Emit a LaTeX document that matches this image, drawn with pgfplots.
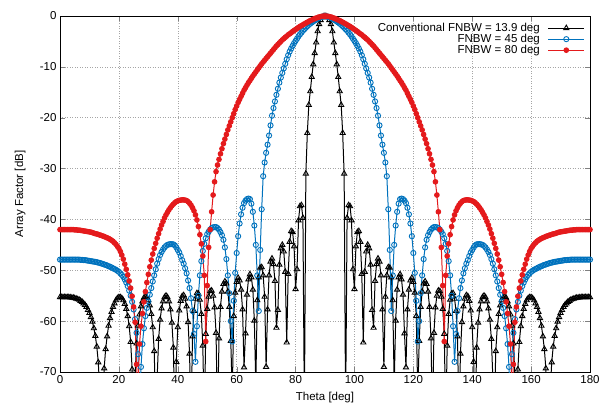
\documentclass[border=0pt]{standalone}
\usepackage{fontspec}
\setmainfont{Liberation Sans}
\usepackage{pgfplots}
\usepackage{pgfplotstable}
\pgfplotsset{compat=1.18}

\definecolor{afblue}{RGB}{0,114,189}
\definecolor{afred}{RGB}{228,26,28}

% t = theta [deg], r = FNBW 80, b = FNBW 45, k = conventional
\pgfplotstableread{
t r b k
0 -42.0 -47.9 -55.3
0.5 -42.0 -47.9 -55.3
1 -42.0 -47.9 -55.3
1.5 -42.0 -47.9 -55.3
2 -42.0 -47.9 -55.3
2.5 -42.0 -47.9 -55.3
3 -42.0 -47.9 -55.3
3.5 -42.0 -47.9 -55.35
4 -42.0 -47.9 -55.4
4.5 -42.0 -47.9 -55.4
5 -42.05 -47.9 -55.5
5.5 -42.05 -47.9 -55.6
6 -42.1 -47.9 -55.7
6.5 -42.1 -47.9 -55.8
7 -42.15 -47.95 -56.0
7.5 -42.2 -47.95 -56.2
8 -42.25 -48.0 -56.5
8.5 -42.3 -48.0 -56.8
9 -42.35 -48.05 -57.2
9.5 -42.4 -48.1 -57.8
10 -42.45 -48.15 -58.4
10.5 -42.5 -48.2 -59.2
11 -42.6 -48.25 -60.1
11.5 -42.7 -48.3 -61.4
12 -42.8 -48.35 -62.9
12.5 -42.85 -48.4 -65.0
13 -42.95 -48.5 -68.1
13.5 -43.05 -48.55 -73.6
14 -43.15 -48.65 -80
14.5 -43.25 -48.75 -75.8
15 -43.35 -48.85 -69.3
15.5 -43.5 -48.95 -65.5
16 -43.6 -49.05 -63.0
16.5 -43.75 -49.2 -60.9
17 -43.9 -49.3 -59.4
17.5 -44.1 -49.45 -58.2
18 -44.3 -49.6 -57.2
18.5 -44.6 -49.75 -56.5
19 -44.9 -49.9 -55.9
19.5 -45.3 -50.1 -55.5
20 -45.7 -50.3 -55.3
20.5 -46.3 -50.6 -55.3
21 -47.0 -50.9 -55.5
21.5 -47.8 -51.3 -55.9
22 -48.8 -51.8 -56.6
22.5 -49.8 -52.4 -57.6
23 -50.9 -53.1 -59.0
23.5 -52.1 -54.0 -61.0
24 -53.5 -55.0 -64.1
24.5 -55.1 -56.2 -69.5
25 -57.2 -57.7 -80
25.5 -60.2 -59.6 -70.8
26 -68.5 -62.3 -64.4
26.5 -74 -66.5 -60.9
27 -64.5 -76 -58.7
27.5 -61.0 -69.0 -57.1
28 -58.5 -64.5 -56.1
28.5 -56.2 -61.4 -55.4
29 -54.2 -59.0 -55.2
29.5 -52.4 -57.4 -55.3
30 -50.8 -56.1 -55.9
30.5 -49.3 -54.8 -56.9
31 -48.0 -53.5 -58.6
31.5 -46.8 -52.2 -61.2
32 -45.7 -51.0 -65.9
32.5 -44.7 -49.8 -78
33 -43.7 -48.7 -71.1
33.5 -42.8 -47.8 -63.5
34 -41.9 -47.0 -59.7
34.5 -41.1 -46.4 -57.5
35 -40.4 -45.9 -56.1
35.5 -39.7 -45.5 -55.3
36 -39.1 -45.2 -55.0
36.5 -38.6 -45.0 -55.3
37 -38.1 -44.9 -56.1
37.5 -37.7 -44.85 -57.7
38 -37.3 -44.85 -60.3
38.5 -37.0 -44.9 -65.2
39 -36.7 -45.1 -80
39.5 -36.5 -45.5 -68.0
40 -36.35 -46.0 -61.2
40.5 -36.25 -46.5 -57.9
41 -36.2 -47.2 -56.0
41.5 -36.15 -48.0 -55.1
42 -36.15 -48.7 -54.9
42.5 -36.2 -49.6 -55.6
43 -36.3 -50.6 -57.1
43.5 -36.5 -52.0 -60.2
44 -36.8 -53.5 -66.4
44.5 -37.2 -55.5 -80
45 -37.7 -58.0 -63.0
45.5 -38.3 -62.5 -58.0
46 -39.1 -68.0 -55.6
46.5 -40.1 -61.0 -54.5
47 -41.4 -55.0 -54.6
47.5 -43.0 -51.0 -55.8
48 -44.8 -48.2 -58.6
48.5 -47.2 -46.2 -64.8
49 -51.0 -44.8 -80
49.5 -64 -43.7 -62.5
50 -53 -42.9 -57.6
50.5 -45.5 -42.4 -55.2
51 -42.0 -42.0 -54.1
51.5 -38.5 -41.7 -54.0
52 -35.2 -41.55 -55.0
52.5 -32.6 -41.5 -57.3
53 -30.6 -41.5 -62.3
53.5 -29.3 -41.7 -80
54 -28.2 -42.0 -63.4
54.5 -27.1 -42.5 -57.2
55 -26.1 -43.1 -54.2
55.5 -25.1 -44.0 -52.7
56 -24.2 -45.5 -52.2
56.5 -23.3 -47.8 -52.6
57 -22.4 -51.0 -54.2
57.5 -21.6 -54.5 -57.2
58 -20.8 -60.0 -63.9
58.5 -20.0 -64.0 -74.3
59 -19.2 -56.0 -59.0
59.5 -18.4 -50.5 -54.4
60 -17.7 -46.6 -52.3
60.5 -17.0 -43.3 -51.5
61 -16.4 -40.8 -52.0
61.5 -15.8 -39.0 -53.8
62 -15.2 -37.7 -57.7
62.5 -14.6 -36.8 -69.1
63 -14.1 -36.3 -62.4
63.5 -13.6 -36.0 -54.8
64 -13.1 -35.9 -51.8
64.5 -12.7 -36.0 -50.8
65 -12.25 -36.9 -51.4
65.5 -11.8 -38.5 -53.8
66 -11.4 -41.2 -59.9
66.5 -11.0 -45.0 -72.5
67 -10.6 -51.0 -55.9
67.5 -10.2 -58.0 -51.4
68 -9.8 -46.0 -49.5
68.5 -9.4 -38.0 -49.4
69 -9.05 -31.5 -51.0
69.5 -8.7 -28.8 -55.2
70 -8.35 -26.9 -69.0
70.5 -8.0 -25.3 -57.7
71 -7.65 -23.5 -51.0
71.5 -7.3 -21.5 -48.3
72 -6.95 -19.6 -47.7
72.5 -6.6 -18.1 -48.8
73 -6.25 -16.8 -52.1
73.5 -5.9 -15.5 -61.3
74 -5.6 -14.3 -57.8
74.5 -5.3 -13.1 -48.9
75 -5.0 -12.1 -45.7
75.5 -4.7 -11.2 -45.0
76 -4.45 -10.3 -46.3
76.5 -4.2 -9.4 -50.3
77 -3.95 -8.5 -64.2
77.5 -3.7 -7.7 -50.7
78 -3.5 -7.0 -44.4
78.5 -3.3 -6.4 -42.3
79 -3.05 -5.85 -42.5
79.5 -2.85 -5.35 -45.3
80 -2.65 -4.9 -53.7
80.5 -2.45 -4.45 -49.8
81 -2.25 -4.0 -40.2
81.5 -2.05 -3.6 -37.4
82 -1.9 -3.25 -37.2
82.5 -1.72 -2.9 -39.7
83 -1.55 -2.6 -78
83.5 -1.38 -2.3 -31
84 -1.22 -2.0 -23
84.5 -1.06 -1.75 -17.5
85 -0.92 -1.5 -14.8
85.5 -0.78 -1.28 -12.0
86 -0.65 -1.08 -9.5
86.5 -0.52 -0.88 -7.3
87 -0.4 -0.7 -5.2
87.5 -0.3 -0.53 -3.0
88 -0.2 -0.38 -1.6
88.5 -0.12 -0.26 -0.8
89 -0.06 -0.15 -0.3
89.5 -0.02 -0.06 -0.1
90 0 0 0
90.5 -0.02 -0.06 -0.1
91 -0.06 -0.15 -0.3
91.5 -0.12 -0.26 -0.8
92 -0.2 -0.38 -1.6
92.5 -0.3 -0.53 -3.0
93 -0.4 -0.7 -5.2
93.5 -0.52 -0.88 -7.3
94 -0.65 -1.08 -9.5
94.5 -0.78 -1.28 -12.0
95 -0.92 -1.5 -14.8
95.5 -1.06 -1.75 -17.5
96 -1.22 -2.0 -23
96.5 -1.38 -2.3 -31
97 -1.55 -2.6 -78
97.5 -1.72 -2.9 -39.7
98 -1.9 -3.25 -37.2
98.5 -2.05 -3.6 -37.4
99 -2.25 -4.0 -40.2
99.5 -2.45 -4.45 -49.8
100 -2.65 -4.9 -53.7
100.5 -2.85 -5.35 -45.3
101 -3.05 -5.85 -42.5
101.5 -3.3 -6.4 -42.3
102 -3.5 -7.0 -44.4
102.5 -3.7 -7.7 -50.7
103 -3.95 -8.5 -64.2
103.5 -4.2 -9.4 -50.3
104 -4.45 -10.3 -46.3
104.5 -4.7 -11.2 -45.0
105 -5.0 -12.1 -45.7
105.5 -5.3 -13.1 -48.9
106 -5.6 -14.3 -57.8
106.5 -5.9 -15.5 -61.3
107 -6.25 -16.8 -52.1
107.5 -6.6 -18.1 -48.8
108 -6.95 -19.6 -47.7
108.5 -7.3 -21.5 -48.3
109 -7.65 -23.5 -51.0
109.5 -8.0 -25.3 -57.7
110 -8.35 -26.9 -69.0
110.5 -8.7 -28.8 -55.2
111 -9.05 -31.5 -51.0
111.5 -9.4 -38.0 -49.4
112 -9.8 -46.0 -49.5
112.5 -10.2 -58.0 -51.4
113 -10.6 -51.0 -55.9
113.5 -11.0 -45.0 -72.5
114 -11.4 -41.2 -59.9
114.5 -11.8 -38.5 -53.8
115 -12.25 -36.9 -51.4
115.5 -12.7 -36.0 -50.8
116 -13.1 -35.9 -51.8
116.5 -13.6 -36.0 -54.8
117 -14.1 -36.3 -62.4
117.5 -14.6 -36.8 -69.1
118 -15.2 -37.7 -57.7
118.5 -15.8 -39.0 -53.8
119 -16.4 -40.8 -52.0
119.5 -17.0 -43.3 -51.5
120 -17.7 -46.6 -52.3
120.5 -18.4 -50.5 -54.4
121 -19.2 -56.0 -59.0
121.5 -20.0 -64.0 -74.3
122 -20.8 -60.0 -63.9
122.5 -21.6 -54.5 -57.2
123 -22.4 -51.0 -54.2
123.5 -23.3 -47.8 -52.6
124 -24.2 -45.5 -52.2
124.5 -25.1 -44.0 -52.7
125 -26.1 -43.1 -54.2
125.5 -27.1 -42.5 -57.2
126 -28.2 -42.0 -63.4
126.5 -29.3 -41.7 -80
127 -30.6 -41.5 -62.3
127.5 -32.6 -41.5 -57.3
128 -35.2 -41.55 -55.0
128.5 -38.5 -41.7 -54.0
129 -42.0 -42.0 -54.1
129.5 -45.5 -42.4 -55.2
130 -53 -42.9 -57.6
130.5 -64 -43.7 -62.5
131 -51.0 -44.8 -80
131.5 -47.2 -46.2 -64.8
132 -44.8 -48.2 -58.6
132.5 -43.0 -51.0 -55.8
133 -41.4 -55.0 -54.6
133.5 -40.1 -61.0 -54.5
134 -39.1 -68.0 -55.6
134.5 -38.3 -62.5 -58.0
135 -37.7 -58.0 -63.0
135.5 -37.2 -55.5 -80
136 -36.8 -53.5 -66.4
136.5 -36.5 -52.0 -60.2
137 -36.3 -50.6 -57.1
137.5 -36.2 -49.6 -55.6
138 -36.15 -48.7 -54.9
138.5 -36.15 -48.0 -55.1
139 -36.2 -47.2 -56.0
139.5 -36.25 -46.5 -57.9
140 -36.35 -46.0 -61.2
140.5 -36.5 -45.5 -68.0
141 -36.7 -45.1 -80
141.5 -37.0 -44.9 -65.2
142 -37.3 -44.85 -60.3
142.5 -37.7 -44.85 -57.7
143 -38.1 -44.9 -56.1
143.5 -38.6 -45.0 -55.3
144 -39.1 -45.2 -55.0
144.5 -39.7 -45.5 -55.3
145 -40.4 -45.9 -56.1
145.5 -41.1 -46.4 -57.5
146 -41.9 -47.0 -59.7
146.5 -42.8 -47.8 -63.5
147 -43.7 -48.7 -71.1
147.5 -44.7 -49.8 -78
148 -45.7 -51.0 -65.9
148.5 -46.8 -52.2 -61.2
149 -48.0 -53.5 -58.6
149.5 -49.3 -54.8 -56.9
150 -50.8 -56.1 -55.9
150.5 -52.4 -57.4 -55.3
151 -54.2 -59.0 -55.2
151.5 -56.2 -61.4 -55.4
152 -58.5 -64.5 -56.1
152.5 -61.0 -69.0 -57.1
153 -64.5 -76 -58.7
153.5 -74 -66.5 -60.9
154 -68.5 -62.3 -64.4
154.5 -60.2 -59.6 -70.8
155 -57.2 -57.7 -80
155.5 -55.1 -56.2 -69.5
156 -53.5 -55.0 -64.1
156.5 -52.1 -54.0 -61.0
157 -50.9 -53.1 -59.0
157.5 -49.8 -52.4 -57.6
158 -48.8 -51.8 -56.6
158.5 -47.8 -51.3 -55.9
159 -47.0 -50.9 -55.5
159.5 -46.3 -50.6 -55.3
160 -45.7 -50.3 -55.3
160.5 -45.3 -50.1 -55.5
161 -44.9 -49.9 -55.9
161.5 -44.6 -49.75 -56.5
162 -44.3 -49.6 -57.2
162.5 -44.1 -49.45 -58.2
163 -43.9 -49.3 -59.4
163.5 -43.75 -49.2 -60.9
164 -43.6 -49.05 -63.0
164.5 -43.5 -48.95 -65.5
165 -43.35 -48.85 -69.3
165.5 -43.25 -48.75 -75.8
166 -43.15 -48.65 -80
166.5 -43.05 -48.55 -73.6
167 -42.95 -48.5 -68.1
167.5 -42.85 -48.4 -65.0
168 -42.8 -48.35 -62.9
168.5 -42.7 -48.3 -61.4
169 -42.6 -48.25 -60.1
169.5 -42.5 -48.2 -59.2
170 -42.45 -48.15 -58.4
170.5 -42.4 -48.1 -57.8
171 -42.35 -48.05 -57.2
171.5 -42.3 -48.0 -56.8
172 -42.25 -48.0 -56.5
172.5 -42.2 -47.95 -56.2
173 -42.15 -47.95 -56.0
173.5 -42.1 -47.9 -55.8
174 -42.1 -47.9 -55.7
174.5 -42.05 -47.9 -55.6
175 -42.05 -47.9 -55.5
175.5 -42.0 -47.9 -55.4
176 -42.0 -47.9 -55.4
176.5 -42.0 -47.9 -55.35
177 -42.0 -47.9 -55.3
177.5 -42.0 -47.9 -55.3
178 -42.0 -47.9 -55.3
178.5 -42.0 -47.9 -55.3
179 -42.0 -47.9 -55.3
179.5 -42.0 -47.9 -55.3
180 -42.0 -47.9 -55.3
}\afdata

\begin{document}
\begin{tikzpicture}
\path[use as bounding box] (-60pt,-33pt) rectangle (545pt,372pt);
\begin{axis}[
  at={(0pt,0pt)}, anchor=south west,
  scale only axis,
  width=530pt, height=356pt,
  xmin=0, xmax=180, ymin=-70, ymax=0,
  xtick={0,20,...,180},
  ytick={-70,-60,...,0},
  grid=major,
  grid style={gray!70, line width=0.5pt, dash pattern=on 1pt off 1.5pt},
  tick align=inside,
  major tick length=5pt,
  axis line style={line width=0.8pt},
  font=\fontsize{11.5}{13.5}\selectfont,
  /pgf/number format/assume math mode=true,
  xlabel={Theta [deg]},
  ylabel={Array Factor [dB]},
  xlabel style={at={(axis description cs:0.5,-0.073)}, anchor=center},
  ylabel style={at={(axis description cs:-0.075,0.5)}, anchor=center},
  legend plot pos=right,
  legend cell align=right,
  legend style={at={(rel axis cs:1,1)}, anchor=north east, xshift=-5pt, yshift=-5pt,
    draw=none, fill=none, inner sep=0pt, row sep=-2.8pt, column sep=6pt,
    font=\fontsize{11.5}{12}\selectfont},
  legend image code/.code={
    \draw[mark repeat=2, mark phase=2] plot coordinates {(0pt,0pt) (18pt,0pt) (36pt,0pt)};
  },
]
\addplot[black, line width=1pt, mark=triangle, mark size=3pt, mark options={solid, line width=0.9pt}]
  table[x=t, y=k] {\afdata};
\addplot[afblue, line width=1pt, mark=o, mark size=2.6pt, mark options={solid, line width=0.9pt}]
  table[x=t, y=b] {\afdata};
\addplot[afred, line width=1pt, mark=*, mark size=2.3pt, mark options={solid, fill=afred, draw=afred}]
  table[x=t, y=r] {\afdata};
\legend{Conventional FNBW = 13.9 deg, FNBW = 45 deg, FNBW = 80 deg}
\end{axis}
\end{tikzpicture}
\end{document}
